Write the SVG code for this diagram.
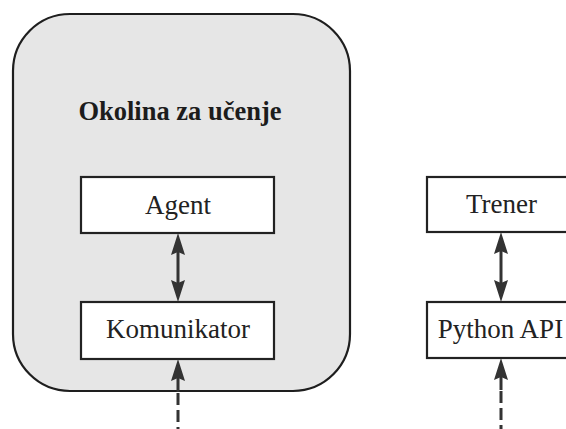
<svg xmlns="http://www.w3.org/2000/svg" width="566" height="429" viewBox="0 0 566 429">
  <style>
    .box { fill: #ffffff; stroke: #222222; stroke-width: 2.2; }
    .env { fill: #e6e6e6; stroke: #1e1e1e; stroke-width: 2.2; }
    .label { font-family: "Liberation Serif", "Times New Roman", serif; font-size: 27px; fill: #222222; text-anchor: middle; }
    .title { font-weight: bold; font-size: 26.5px; fill: #1c1c1c; }
    .link { stroke: #333333; stroke-width: 3; fill: none; }
    .dash { stroke-dasharray: 12 5; }
  </style>
  <defs>
    <marker id="head" markerUnits="userSpaceOnUse" markerWidth="24" markerHeight="14" refX="16" refY="7" orient="auto-start-reverse">
      <path d="M0,0 L22,7 L0,14 L3,7 Z" fill="#333333" stroke="none"/>
    </marker>
  </defs>

  <!-- learning environment container -->
  <g id="environment">
    <rect class="env" x="13" y="14" width="337" height="377" rx="57" ry="57"/>
    <text class="label title" x="180" y="120">Okolina za učenje</text>
  </g>

  <g id="agent">
    <rect class="box" x="81" y="177" width="193" height="56"/>
    <text class="label" x="178" y="214">Agent</text>
  </g>

  <g id="komunikator">
    <rect class="box" x="81" y="302" width="193" height="57"/>
    <text class="label" x="178" y="338">Komunikator</text>
  </g>

  <g id="trener">
    <rect class="box" x="427" y="177" width="150" height="55"/>
    <text class="label" x="501.5" y="213">Trener</text>
  </g>

  <g id="python-api">
    <rect class="box" x="427" y="302" width="150" height="56"/>
    <text class="label" x="500.5" y="338">Python API</text>
  </g>

  <g id="connectors">
    <!-- Agent <-> Komunikator -->
    <line class="link" x1="178" y1="239" x2="178" y2="296" marker-start="url(#head)" marker-end="url(#head)"/>
    <!-- Trener <-> Python API -->
    <line class="link" x1="501" y1="238" x2="501" y2="296" marker-start="url(#head)" marker-end="url(#head)"/>
    <!-- incoming link into Komunikator -->
    <line class="link" x1="178" y1="392" x2="178" y2="365" marker-end="url(#head)"/>
    <line class="link dash" x1="178" y1="393" x2="178" y2="429"/>
    <!-- incoming link into Python API -->
    <line class="link" x1="501" y1="390" x2="501" y2="364" marker-end="url(#head)"/>
    <line class="link dash" x1="501" y1="391" x2="501" y2="429"/>
  </g>
</svg>
